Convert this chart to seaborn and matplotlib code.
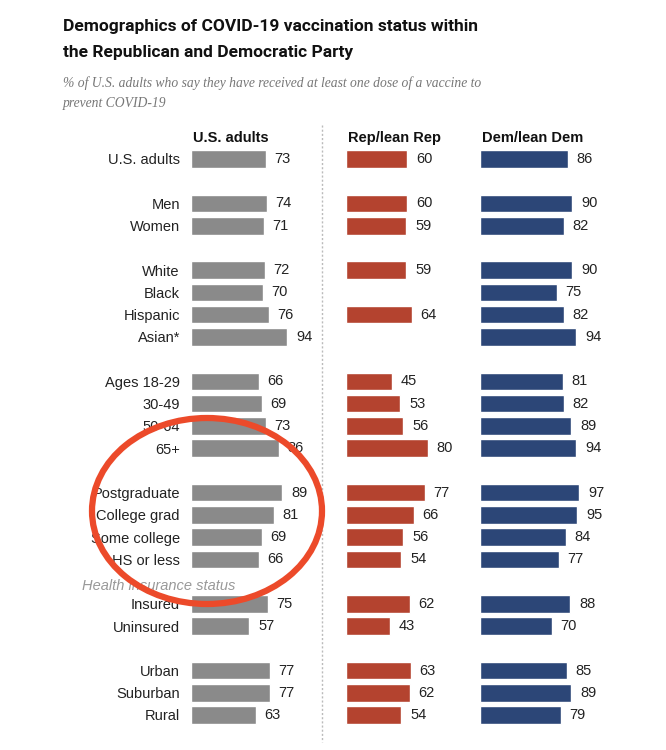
import numpy as np
import pandas as pd
import seaborn as sns
import matplotlib
matplotlib.use("Agg")
from matplotlib import pyplot as plt
from matplotlib.patches import Ellipse
from matplotlib.lines import Line2D

# datos de la grafica (filas vacias = None)
categorias = ["U.S. adults", None, "Men", "Women", None,
              "White", "Black", "Hispanic", "Asian*", None,
              "Ages 18-29", "30-49", "50-64", "65+", None,
              "Postgraduate", "College grad", "Some college", "HS or less", None,
              "Insured", "Uninsured", None,
              "Urban", "Suburban", "Rural"]
us_adults = [73, None, 74, 71, None, 72, 70, 76, 94, None,
             66, 69, 73, 86, None, 89, 81, 69, 66, None,
             75, 57, None, 77, 77, 63]
rep_lean = [60, None, 60, 59, None, 59, None, 64, None, None,
            45, 53, 56, 80, None, 77, 66, 56, 54, None,
            62, 43, None, 63, 62, 54]
dem_lean = [86, None, 90, 82, None, 90, 75, 82, 94, None,
            81, 82, 89, 94, None, 97, 95, 84, 77, None,
            88, 70, None, 85, 89, 79]
paneles = ["U.S. adults", "Rep/lean Rep", "Dem/lean Dem"]
colores = ["#8a8a8a", "#b4432f", "#2c4677"]

sns.set_theme(style="white")
plt.rcParams["font.family"] = ["Liberation Sans", "DejaVu Sans"]

W, H = 666, 750
fig = plt.figure(figsize=(W / 100, H / 100), dpi=100)

def px(x, y, w, h):
    # pixel box (desde arriba) -> fraccion de figura
    return [x / W, 1 - (y + h) / H, w / W, h / H]

fila = np.arange(len(categorias))
top = 159 - 11.12
alto = len(categorias) * 22.24
escala = 1.025  # px por punto
xmax = 112

series = [us_adults, rep_lean, dem_lean]
lefts = [191, 346, 480]

for k, (nombre, vals) in enumerate(zip(paneles, series)):
    df = pd.DataFrame({"fila": fila, "valor": vals}).dropna()
    ax = fig.add_axes(px(lefts[k], top, xmax * escala, alto))
    sns.barplot(data=df, x="valor", y="fila", orient="h", native_scale=True,
                color=colores[k], saturation=1, width=0.79, ax=ax)
    ax.set_xlim(0, xmax)
    ax.set_ylim(len(categorias) - 0.5, -0.5)
    for _, r in df.iterrows():
        ax.text(r["valor"] + 8.5, r["fila"], str(int(r["valor"])), va="center",
                ha="left", fontsize=10.5, color="#222222")
    ax.set_xlabel("")
    ax.set_ylabel("")
    ax.set_xticks([])
    if k == 0:
        idx = [i for i, c in enumerate(categorias) if c]
        ax.set_yticks(idx)
        ax.set_yticklabels([categorias[i] for i in idx], fontsize=10.5, color="#222222")
        ax.tick_params(axis="y", length=0, pad=8)
    else:
        ax.set_yticks([])
    sns.despine(ax=ax, left=True, bottom=True)
    fig.text((lefts[k] + 2) / W, 1 - 138 / H, nombre, fontsize=10.5,
             fontweight="bold", va="center", ha="left", color="#111111")

fig.text(82 / W, 1 - 586 / H, "Health insurance status", fontsize=10.5,
         style="italic", color="#999999", va="center", ha="left")

# titulo y subtitulo
tfam = ["Roboto", "Liberation Sans", "DejaVu Sans"]
fig.text(63 / W, 1 - 27 / H, "Demographics of COVID-19 vaccination status within",
         fontsize=12.5, fontweight="bold", family=tfam, va="center", color="#111111")
fig.text(63 / W, 1 - 53 / H, "the Republican and Democratic Party",
         fontsize=12.5, fontweight="bold", family=tfam, va="center", color="#111111")
sfam = ["Liberation Serif", "DejaVu Serif"]
fig.text(63 / W, 1 - 83 / H,
         "% of U.S. adults who say they have received at least one dose of a vaccine to",
         fontsize=9.8, style="italic", family=sfam, va="center", color="#777777")
fig.text(63 / W, 1 - 103 / H, "prevent COVID-19",
         fontsize=9.8, style="italic", family=sfam, va="center", color="#777777")

# linea separadora punteada
fig.add_artist(Line2D([322 / W, 322 / W], [1 - 125 / H, 1 - 742 / H],
                      transform=fig.transFigure, color="#bbbbbb", lw=1,
                      linestyle=(0, (1.5, 1.5))))

# circulo rojo dibujado a mano
circ = Ellipse((207 / W, 1 - 511 / H), 230 / W, 186 / H, transform=fig.transFigure,
               fill=False, edgecolor="#ec4a2a", lw=4.5, zorder=10)
fig.add_artist(circ)

fig.savefig("out.png", dpi=100)
